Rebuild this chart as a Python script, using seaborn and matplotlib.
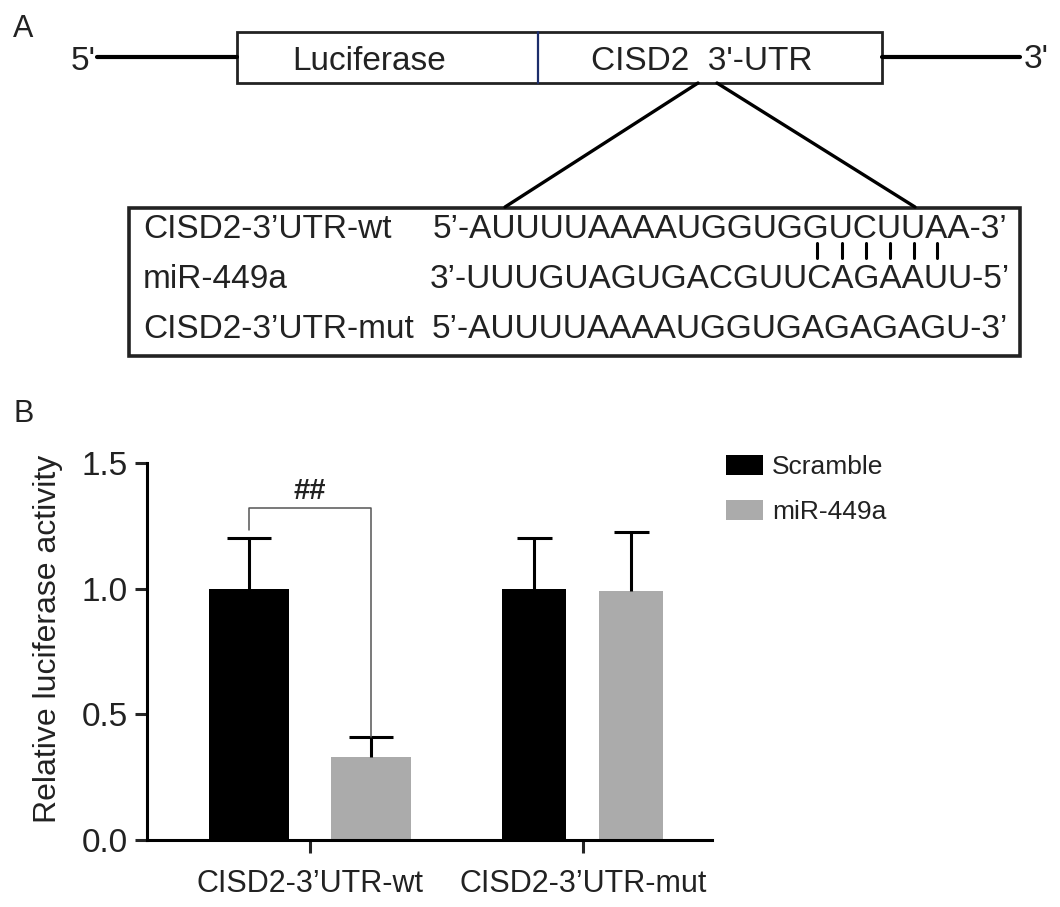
import matplotlib
matplotlib.use("Agg")
import matplotlib.pyplot as plt
from matplotlib.patches import Rectangle
import seaborn as sns
import pandas as pd

# ---- data (panel B) ----
constructs = ["CISD2-3’UTR-wt", "CISD2-3’UTR-mut"]
groups = ["Scramble", "miR-449a"]
scramble_mean = [1.0, 1.0]
scramble_sd = [0.20, 0.20]
mir_mean = [0.33, 0.99]
mir_sd = [0.08, 0.235]
yticks = [0.0, 0.5, 1.0, 1.5]
ytick_labels = ["0.0", "0.5", "1.0", "1.5"]
sig_label = "##"

# ---- text of panel A ----
row_labels = ["CISD2-3’UTR-wt", "miR-449a", "CISD2-3’UTR-mut"]
row_seqs = ["5’-AUUUUAAAAUGGUGGUCUUAA-3’",
            "3’-UUUGUAGUGACGUUCAGAAUU-5’",
            "5’-AUUUUAAAAUGGUGAGAGAGU-3’"]
pair_idx = [17, 18, 19, 20, 21, 22]   # paired bases in row_seqs[0]

sns.set_style("ticks")
plt.rcParams['font.family'] = ['Liberation Sans', 'DejaVu Sans']
txt = '#222222'

fig = plt.figure(figsize=(10.6, 9.07), dpi=100)

# ===== panel A, drawn in pixel coordinates =====
a0 = fig.add_axes([0, 0, 1, 1])
a0.set_xlim(0, 1060)
a0.set_ylim(907, 0)
a0.axis('off')
a0.patch.set_visible(False)
fs = 24

a0.text(13, 37, "A", fontsize=22, color=txt, va='baseline')
a0.text(13, 422, "B", fontsize=22, color=txt, va='baseline')

a0.plot([97, 237], [57, 57], color='black', lw=3)
a0.plot([882, 1020], [57, 57], color='black', lw=3)
a0.text(96, 70, "5'", fontsize=fs, color=txt, ha='right', va='baseline')
a0.text(1024, 68, "3'", fontsize=fs, color=txt, ha='left', va='baseline')
a0.add_patch(Rectangle((237, 32), 645, 51, fill=False, ec='#222222', lw=2))
a0.plot([538, 538], [32, 83], color='#1c2d6b', lw=1.6)
a0.text(369, 70, "Luciferase", fontsize=fs, color=txt, ha='center', va='baseline')
a0.text(702, 70, "CISD2  3'-UTR", fontsize=fs, color=txt, ha='center', va='baseline')

a0.plot([698, 505], [83, 207], color='black', lw=2.4)
a0.plot([717, 915], [83, 207], color='black', lw=2.4)
a0.add_patch(Rectangle((129, 208), 891, 148, fill=False, ec='#222222', lw=2.6))

baselines = [238, 288, 338]
seq_x = [433, 430, 432]
for lab, seq, yb, xs in zip(row_labels, row_seqs, baselines, seq_x):
    a0.text(143, yb, lab, fontsize=fs, color=txt, va='baseline')
    a0.text(xs, yb, seq, fontsize=fs, color=txt, va='baseline')

# base pairing marks under the paired letters of the wt row
r = fig.canvas.get_renderer()
def width_of(s):
    t = a0.text(0, 0, s, fontsize=fs)
    w = t.get_window_extent(r).width
    t.remove()
    return w
for i in pair_idx:
    x0 = seq_x[0] + width_of(row_seqs[0][:i])
    xc = x0 + width_of(row_seqs[0][i]) / 2
    a0.plot([xc, xc], [243, 258], color='black', lw=2.2)

# ===== panel B =====
ax = fig.add_axes([147 / 1060, 67 / 907, 565 / 1060, 377 / 907])
df = pd.DataFrame({
    "construct": constructs * 2,
    "group": [groups[0]] * 2 + [groups[1]] * 2,
    "value": scramble_mean + mir_mean,
})
sns.barplot(data=df, x="construct", y="value", hue="group",
            palette={"Scramble": "black", "miR-449a": "#ababab"},
            width=0.888, gap=0.34, errorbar=None, saturation=1,
            linewidth=0, ax=ax)

sds = [scramble_sd, mir_sd]
shrink = [1.0, 0.8]          # the mut group is drawn narrower
centers = [[0, 0], [0, 0]]
tops = [[0, 0], [0, 0]]
for h, cont in enumerate(ax.containers):
    for j, bar in enumerate(cont):
        w = bar.get_width() * shrink[j]
        c = j + (bar.get_x() + bar.get_width() / 2 - j) * shrink[j]
        bar.set_x(c - w / 2)
        bar.set_width(w)
        top = bar.get_height()
        e = top + sds[h][j]
        ax.plot([c, c], [top, e], color='black', lw=2.2, solid_capstyle='butt', zorder=1)
        ax.plot([c - 0.275 * w, c + 0.275 * w], [e, e], color='black', lw=2.2,
                solid_capstyle='butt', zorder=1)
        centers[h][j] = c
        tops[h][j] = e

# significance bracket between the wt bars
yb = 1.32
c0, c1 = centers[0][0], centers[1][0]
ax.plot([c0, c0, c1, c1], [tops[0][0] + 0.035, yb, yb, tops[1][0]],
        color='#555555', lw=1.1)
ax.text((c0 + c1) / 2, yb + 0.012, sig_label, fontsize=21, fontweight='bold',
        color=txt, ha='center', va='bottom')

ax.set_xlim(-0.597, 1.473)
ax.set_ylim(0, 1.5)
ax.set_yticks(yticks)
ax.set_yticklabels(ytick_labels)
ax.set_xlabel("")
ax.set_ylabel("Relative luciferase activity", fontsize=23, color=txt)
ax.yaxis.set_label_coords(-0.148, 0.533)
sns.despine(ax=ax)
for s in ['left', 'bottom']:
    ax.spines[s].set_linewidth(2.2)
    ax.spines[s].set_color('black')
ax.tick_params(axis='y', length=9, width=2.2, pad=5, labelsize=24, labelcolor=txt)
ax.tick_params(axis='x', length=9, width=2.2, pad=12, labelsize=22, labelcolor=txt)

handles, labels = ax.get_legend_handles_labels()
ax.legend(handles, labels, loc='upper left', bbox_to_anchor=(726 / 1060, 1 - 455 / 907),
          bbox_transform=fig.transFigure, frameon=False, fontsize=19,
          handlelength=1.4, handleheight=0.8, handletextpad=0.35,
          labelspacing=0.78, borderpad=0, borderaxespad=0,
          labelcolor=txt)

fig.savefig("out.png", dpi=100)
